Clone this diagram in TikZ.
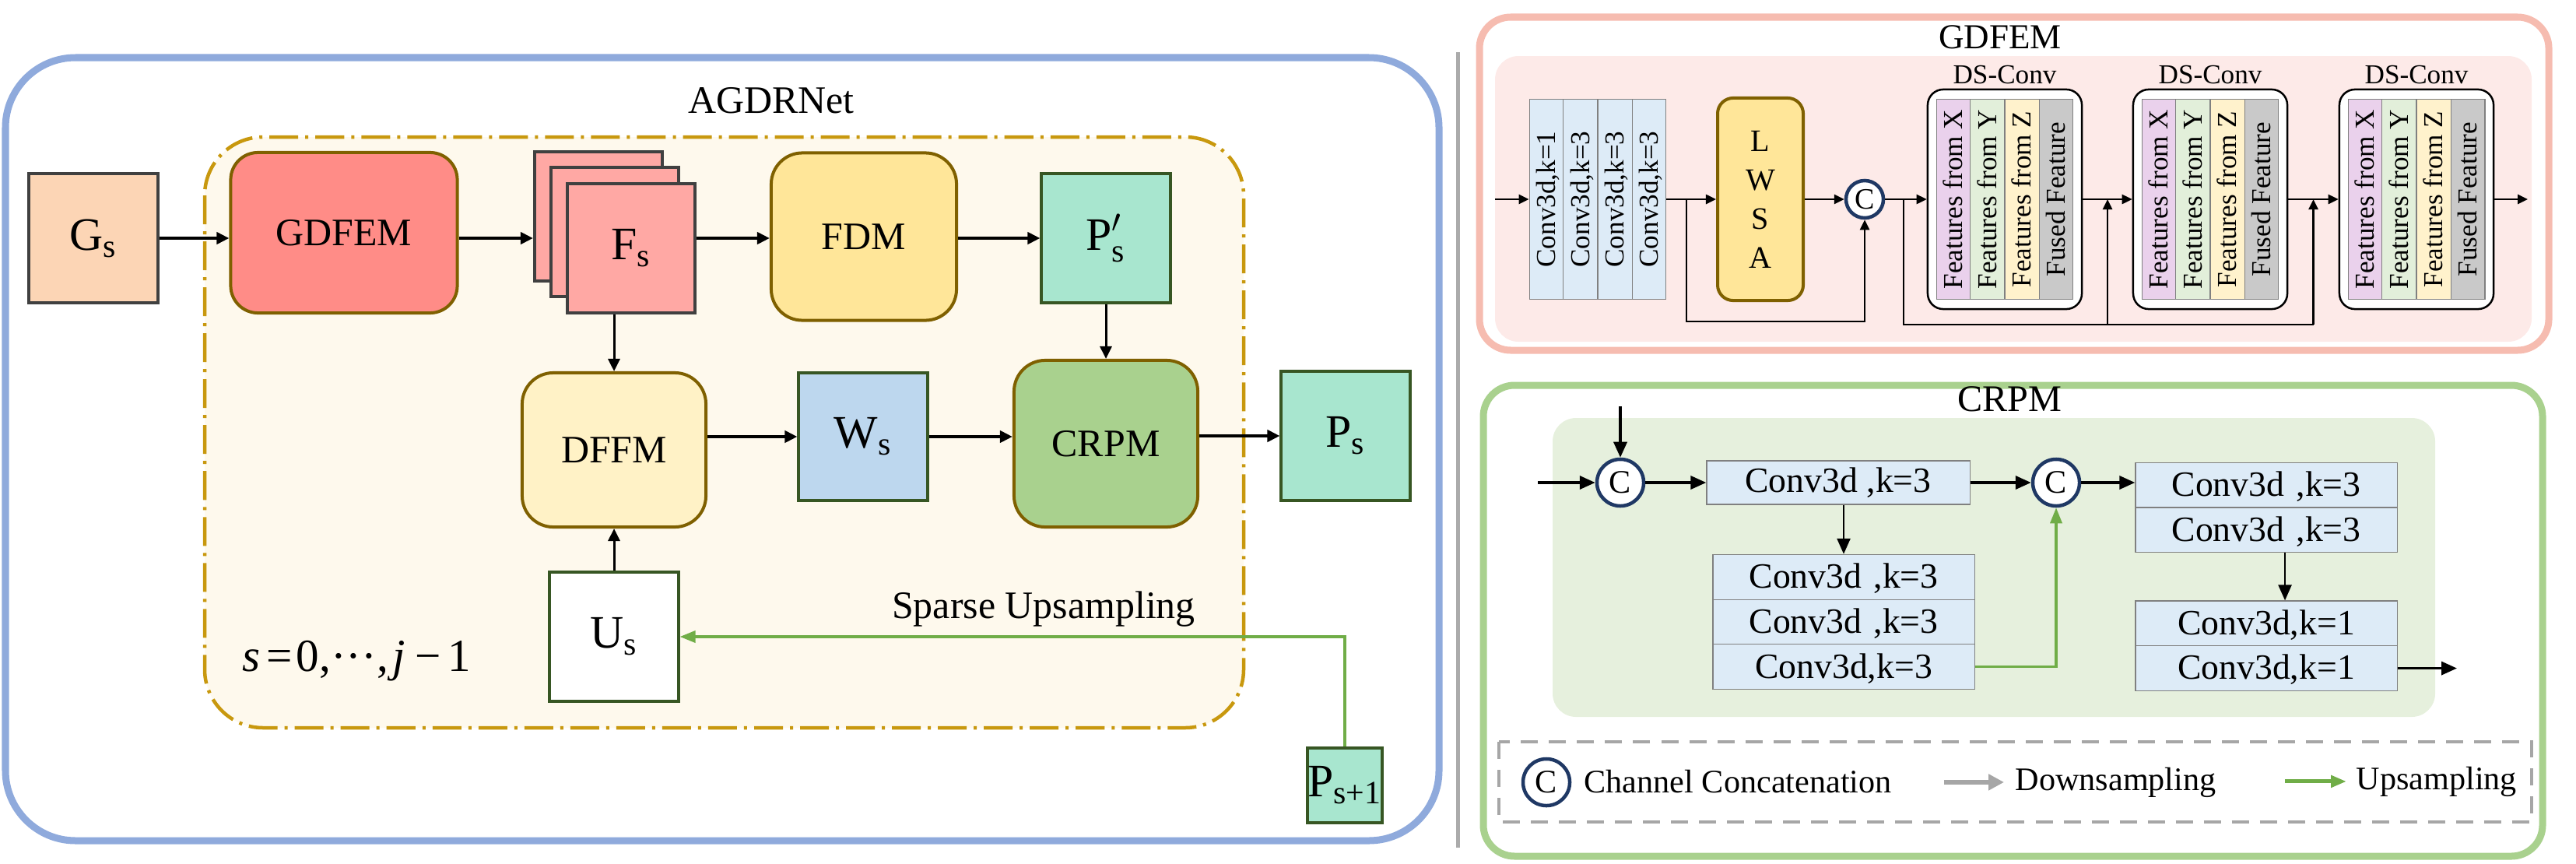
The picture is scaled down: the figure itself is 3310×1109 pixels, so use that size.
\documentclass[tikz,border=0pt]{standalone}
\usepackage{amsmath}
\usepackage{graphicx}
\usepackage{fontspec}
\setmainfont{Liberation Serif}
\usetikzlibrary{shapes,positioning,arrows.meta,calc}

\definecolor{frameblue}{HTML}{8FAADC}
\definecolor{framepink}{HTML}{F6BCB0}
\definecolor{innerpink}{HTML}{FDEAE8}
\definecolor{framegreen}{HTML}{A9D18E}
\definecolor{innergreen}{HTML}{E6F0DD}
\definecolor{sepgray}{HTML}{ABABAB}
\definecolor{dashgold}{HTML}{C8980E}
\definecolor{cream}{HTML}{FEF9ED}
\definecolor{modbrown}{HTML}{7F6000}
\definecolor{boxgray}{HTML}{404040}
\definecolor{boxgreen}{HTML}{375623}
\definecolor{peach}{HTML}{FCD5B5}
\definecolor{salmon}{HTML}{FF8C87}
\definecolor{featpink}{HTML}{FFA8A4}
\definecolor{fdmyellow}{HTML}{FFE699}
\definecolor{mint}{HTML}{A8E6CF}
\definecolor{wblue}{HTML}{BDD7EE}
\definecolor{crpmgreen}{HTML}{A9D18E}
\definecolor{dffmyellow}{HTML}{FFF2C6}
\definecolor{upgreen}{HTML}{70AD47}
\definecolor{convblue}{HTML}{DDEBF7}
\definecolor{colx}{HTML}{EAD1EC}
\definecolor{coly}{HTML}{E2EFDA}
\definecolor{colz}{HTML}{FFF2CC}
\definecolor{colf}{HTML}{C9C9C9}
\definecolor{catnavy}{HTML}{1F3864}
\definecolor{leggray}{HTML}{A6A6A6}

\newcommand{\vtext}[1]{\rotatebox{90}{\makebox[2.57cm]{\rule[-0.1cm]{0pt}{0.43cm}#1}}}
\newcommand{\htext}[1]{\rule[-0.14cm]{0pt}{0.565cm}#1}

\begin{document}
\begin{tikzpicture}[x=0.01cm,y=-0.01cm,
            every node/.style={inner sep=0pt},
            lab/.style={font=\fontsize{14.2}{17}\selectfont},
            sqbox/.style={rectangle, draw=#1, line width=0.04cm,
                minimum width=1.65cm, minimum height=1.65cm, font=\fontsize{17}{20}\selectfont},
            module/.style={rectangle, rounded corners=0.4cm, draw=modbrown, line width=0.04cm,
                font=\fontsize{14.2}{17}\selectfont},
            vstack/.style={rectangle split, rectangle split horizontal, rectangle split parts=4,
                draw=gray, line width=0.012cm, font=\fontsize{10}{12}\selectfont},
            cstack/.style={rectangle split, rectangle split parts=#1, draw=gray, fill=convblue,
                line width=0.012cm, text width=3.36cm, align=center, font=\fontsize{13}{15}\selectfont},
            dsframe/.style={rectangle, rounded corners=0.2cm, draw, line width=0.025cm, fill=white,
                minimum width=1.98cm, minimum height=2.82cm},
            catnode/.style={circle, draw=catnavy, line width=0.045cm, fill=white, minimum size=#1},
            arr/.style={-{Triangle[length=0.16cm,width=0.15cm]}, line width=0.045cm},
            sarr/.style={-{Triangle[length=0.13cm,width=0.12cm]}, line width=0.025cm},
            carr/.style={-{Triangle[length=0.2cm,width=0.17cm]}, line width=0.035cm},
            garr/.style={-{Triangle[length=0.2cm,width=0.15cm]}, line width=0.035cm, color=upgreen}]

            \useasboundingbox (0,0) rectangle (3310,1109);

            \draw[frameblue, line width=0.09cm, rounded corners=0.9cm] (7,74) rectangle (1849,1080);
            \draw[sepgray, line width=0.05cm] (1873,67) -- (1873,1089);
            \draw[framepink, line width=0.09cm, rounded corners=0.4cm] (1901,22) rectangle (3275,450);
            \fill[innerpink, rounded corners=0.3cm] (1921,72) rectangle (3253,439);
            \draw[framegreen, line width=0.09cm, rounded corners=0.4cm] (1906,495) rectangle (3267,1100);
            \fill[innergreen, rounded corners=0.3cm] (1995,537) rectangle (3129,921);
            \draw[dashgold, fill=cream, line width=0.045cm, rounded corners=0.75cm,
                dash pattern=on 0.37cm off 0.09cm on 0.04cm off 0.09cm] (263,176) rectangle (1598,935);
            \draw[leggray, line width=0.04cm, dash pattern=on 0.22cm off 0.14cm] (1926,953) rectangle (3253,1056);

            \node[lab, anchor=base] (title) at (991,145) {AGDRNet};
            \node[sqbox=boxgray, fill=peach] (gs) at (120,306) {G$_{\text{s}}$};
            \node[module, fill=salmon, rounded corners=0.35cm, minimum width=2.91cm, minimum height=2.06cm] (gdfem) at (442,299) {GDFEM};
            \node[sqbox=boxgray, fill=featpink, minimum width=1.64cm, minimum height=1.66cm] (fs1) at (769,278) {};
            \node[sqbox=boxgray, fill=featpink, minimum width=1.64cm, minimum height=1.66cm] (fs2) at (790,298) {};
            \node[sqbox=boxgray, fill=featpink, minimum width=1.64cm, minimum height=1.66cm] (fs3) at (811,319) {F$_{\text{s}}$};
            \node[module, fill=fdmyellow, minimum width=2.38cm, minimum height=2.15cm] (fdm) at (1110,304) {FDM};
            \node[sqbox=boxgreen, fill=mint] (pp) at (1421,306) {P$'_{\text{s}}$};
            \node[module, fill=dffmyellow, minimum width=2.36cm, minimum height=1.98cm] (dffm) at (789,578) {DFFM};
            \node[sqbox=boxgreen, fill=wblue, minimum height=1.64cm] (ws) at (1109,561) {W$_{\text{s}}$};
            \node[module, fill=crpmgreen, minimum width=2.36cm, minimum height=2.14cm] (crpm) at (1421,570) {CRPM};
            \node[sqbox=boxgreen, fill=mint] (ps) at (1729,560) {P$_{\text{s}}$};
            \node[sqbox=boxgreen, fill=white] (us) at (789,818) {U$_{\text{s}}$};
            \node[sqbox=boxgreen, fill=mint, minimum width=0.96cm, minimum height=0.96cm] (ps1) at (1728,1009) {P$_{\text{s+1}}$};
            \node[lab, anchor=base] (sparse) at (1341,794) {Sparse Upsampling};
            \node[font=\fontsize{16.8}{20}\selectfont, anchor=base] (range) at (458,862) {\textit{s}\hspace{0.15em}=\hspace{0.08em}0,···,\hspace{0.1em}\textit{j}\hspace{0.2em}−\hspace{0.15em}1};

            \draw[arr] (gs.east) -- (gs.east -| gdfem.west);
            \draw[arr] (gdfem.east |- gs.east) -- (fs1.west |- gs.east);
            \draw[arr] (fs3.east |- gs.east) -- (fdm.west |- gs.east);
            \draw[arr] (fdm.east |- gs.east) -- (pp.west);
            \draw[arr, line width=0.03cm] (dffm.north |- fs3.south) -- (dffm.north);
            \draw[arr, line width=0.03cm] (pp.south) -- (pp.south |- crpm.north);
            \draw[arr] (ws.west -| dffm.east) -- (ws.west);
            \draw[arr] (ws.east) -- (ws.east -| crpm.west);
            \draw[arr] (crpm.east |- ps.west) -- (ps.west);
            \draw[arr, line width=0.03cm] (us.north) -- (dffm.south);
            \draw[garr] (ps1.north) |- (us.east);

            \node[font=\fontsize{12.8}{15}\selectfont, anchor=base] (gtitle) at (2570,62) {GDFEM};
            \coordinate (gin) at (1921,256);
            \coordinate (gout) at (3248,256);
            \node[vstack, fill=convblue] (cv) at (2053,256) {\vtext{Conv3d,k=1}\nodepart{two}\vtext{Conv3d,k=3}\nodepart{three}\vtext{Conv3d,k=3}\nodepart{four}\vtext{Conv3d,k=3}};
            \node[rectangle, rounded corners=0.2cm, draw=modbrown, line width=0.04cm, fill=fdmyellow, minimum width=1.1cm, minimum height=2.6cm,
                align=center, font=\fontsize{11.4}{14.2}\selectfont] (lw) at (2262,256) {L\\W\\S\\A};
            \node[catnode=0.48cm, font=\fontsize{10.8}{12}\selectfont] (g1) at (2396,256) {C};
            \node[dsframe] (fr1) at (2576,256) {};
            \node[dsframe] (fr2) at (2840,256) {};
            \node[dsframe] (fr3) at (3105,256) {};
            \node[vstack, rectangle split part fill={colx,coly,colz,colf}] (ds1) at (fr1) {\vtext{Features from X}\nodepart{two}\vtext{Features from Y}\nodepart{three}\vtext{Features from Z}\nodepart{four}\vtext{Fused Feature}};
            \node[vstack, rectangle split part fill={colx,coly,colz,colf}] (ds2) at (fr2) {\vtext{Features from X}\nodepart{two}\vtext{Features from Y}\nodepart{three}\vtext{Features from Z}\nodepart{four}\vtext{Fused Feature}};
            \node[vstack, rectangle split part fill={colx,coly,colz,colf}] (ds3) at (fr3) {\vtext{Features from X}\nodepart{two}\vtext{Features from Y}\nodepart{three}\vtext{Features from Z}\nodepart{four}\vtext{Fused Feature}};
            \node[font=\fontsize{10}{12}\selectfont, above=0.05cm of fr1] (t1) {DS-Conv};
            \node[font=\fontsize{10}{12}\selectfont, above=0.05cm of fr2] (t2) {DS-Conv};
            \node[font=\fontsize{10}{12}\selectfont, above=0.05cm of fr3] (t3) {DS-Conv};

            \draw[sarr] (gin) -- (cv.west);
            \draw[sarr] (cv.east) -- (lw.west);
            \draw[sarr] ($(cv.east)!0.4!(lw.west)$) -- ++(0,157) -| (g1.south);
            \draw[sarr] (lw.east) -- (g1.west);
            \draw[sarr] (g1.east) -- (fr1.west);
            \coordinate (m1) at ($(fr1.east)!0.5!(fr2.west)$);
            \coordinate (m2) at ($(fr2.east)!0.5!(fr3.west)$);
            \draw[line width=0.025cm] ($(g1.east)!0.44!(fr1.west)$) -- ++(0,161) coordinate (bl) -- (bl -| m2);
            \draw[sarr] (bl -| m1) -- (m1);
            \draw[sarr] (bl -| m2) -- (m2);
            \draw[sarr] (fr1.east) -- (fr2.west);
            \draw[sarr] (fr2.east) -- (fr3.west);
            \draw[sarr] (fr3.east) -- (gout);

            \node[font=\fontsize{13.7}{16}\selectfont, anchor=base] (ctitle) at (2582,528) {CRPM};
            \coordinate (ctop) at (2082,522);
            \coordinate (cin) at (1976,620);
            \coordinate (cout) at (3157,857);
            \node[catnode=0.6cm, font=\fontsize{12}{14}\selectfont] (c1) at (2082,620) {C};
            \node[rectangle, draw=gray, fill=convblue, line width=0.012cm, minimum width=3.38cm, minimum height=0.56cm,
                font=\fontsize{13}{15}\selectfont] (ca) at (2362,620) {Conv3d ,k=3};
            \node[catnode=0.6cm, font=\fontsize{12}{14}\selectfont] (c2) at (2642,620) {C};
            \node[cstack=2] (cb) at (2912,652) {\htext{Conv3d ,k=3}\nodepart{two}\htext{Conv3d ,k=3}};
            \node[cstack=2, below=0.61cm of cb] (cd) {\htext{Conv3d,k=1}\nodepart{two}\htext{Conv3d,k=1}};
            \node[cstack=3] (cc) at (2369,799) {\htext{Conv3d ,k=3}\nodepart{two}\htext{Conv3d ,k=3}\nodepart{three}\htext{Conv3d,k=3}};

            \draw[carr] (ctop) -- (c1.north);
            \draw[carr] (cin) -- (c1.west);
            \draw[carr] (c1.east) -- (ca.west);
            \draw[carr] (ca.east) -- (c2.west);
            \draw[carr] (c2.east) -- (c2.east -| cb.west);
            \draw[carr, line width=0.025cm] (ca.south -| cc.north) -- (cc.north);
            \draw[carr, line width=0.025cm] ([xshift=0.24cm]cb.south) -- ([xshift=0.24cm]cd.north);
            \draw[garr] (cc.three east) -| (c2.south);
            \draw[carr] (cd.two east) -- (cd.two east -| cout);

            \node[catnode=0.6cm, font=\fontsize{12}{14}\selectfont] (lc) at (1987,1005) {C};
            \node[font=\fontsize{12}{14}\selectfont, anchor=base west] (lcc) at (2035,1018) {Channel Concatenation};
            \node[font=\fontsize{12}{14}\selectfont, anchor=base west] (ld) at (2589,1015) {Downsampling};
            \node[font=\fontsize{12}{14}\selectfont, anchor=base west] (lu) at (3027,1014) {Upsampling};
            \draw[-{Triangle[length=0.2cm,width=0.2cm]}, leggray, line width=0.06cm] ([xshift=-0.91cm]ld.west) -- ([xshift=-0.14cm]ld.west);
            \draw[garr, line width=0.05cm] ([xshift=-0.91cm]lu.west) -- ([xshift=-0.12cm]lu.west);

        \end{tikzpicture}
\end{document}
